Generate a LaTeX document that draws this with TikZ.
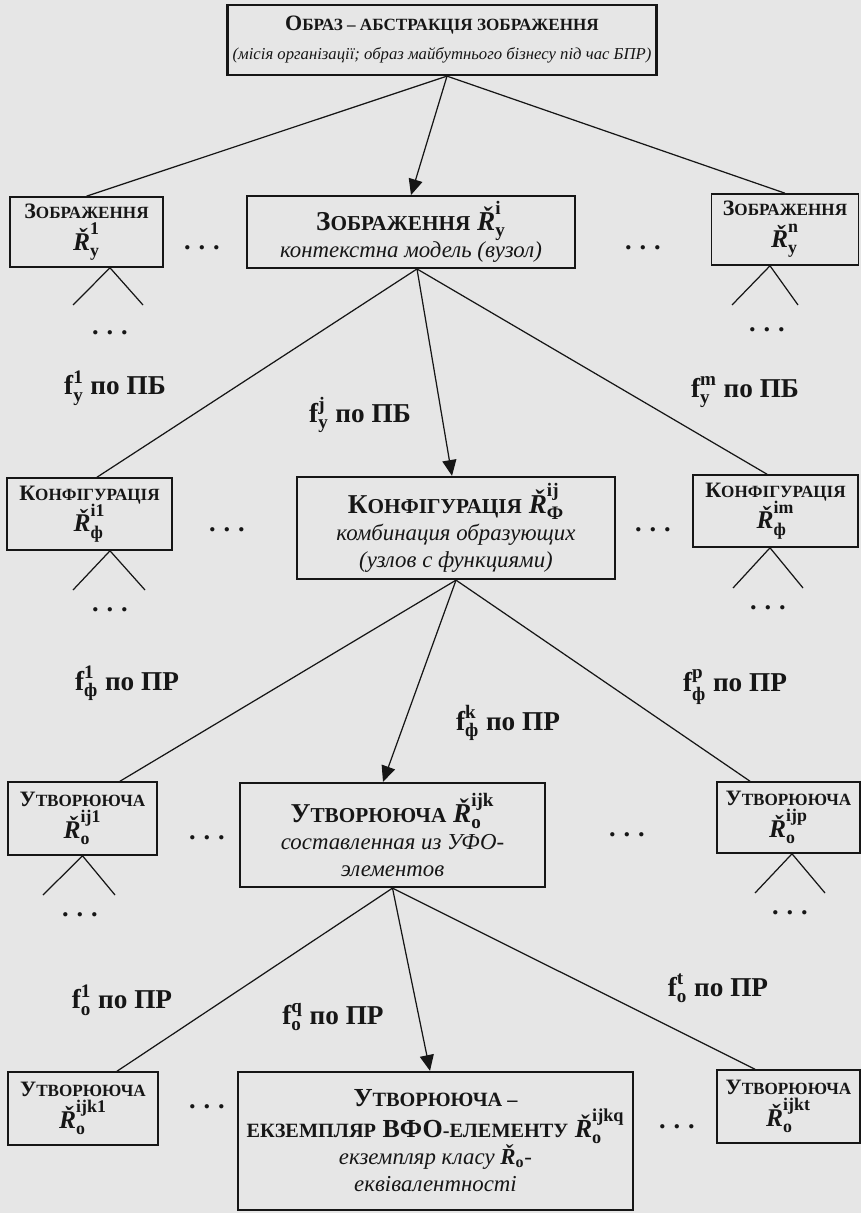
\documentclass[tikz,border=0pt]{standalone}
\usepackage{amsmath}
\usepackage{fontspec}
\setmainfont{Liberation Serif}
\usepackage{xcolor}
\usepackage{tikz}
\usetikzlibrary{positioning, calc, arrows.meta}
\definecolor{pgPaper}{RGB}{230, 230, 230}
\definecolor{pgInk}{RGB}{22, 22, 22}
\makeatletter
\newcommand{\lowcaps}[1]{{\@tempdima=\f@size pt \@tempdima=0.78\@tempdima \fontsize{\@tempdima}{\baselineskip}\selectfont #1}}
\makeatother
\newcommand{\Rv}[2]{$\text{\bfseries\itshape Ř}_{\text{\bfseries\upshape #1}}^{\text{\bfseries\upshape #2}}$}
\newcommand{\Rsub}[1]{$\text{\bfseries\itshape Ř}_{\text{\bfseries\upshape #1}}$}
\newcommand{\fpo}[3]{$\text{\bfseries f}_{\text{\bfseries #1}}^{\text{\bfseries #2}}$ по #3}
\newcommand{\gapdots}{.\hspace{0.3em}.\hspace{0.3em}.}
\tikzset{
    base/.style={
        align=center,
        text=pgInk
    },
    core/.style={
        base,
        rectangle,
        draw=pgInk,
        line width=1.3pt,
        inner sep=1mm,
        font=\fontsize{15.5}{15.5}\selectfont
    },
    leaf/.style={
        base,
        rectangle,
        draw=pgInk,
        line width=0.9pt,
        inner sep=1mm,
        font=\fontsize{12.5}{18}\selectfont
    },
    gap/.style={
        base,
        font=\bfseries\fontsize{15}{15}\selectfont,
        inner sep=0pt
    },
    link/.style={
        draw=pgInk,
        line width=0.7pt
    },
    flow/.style={
        link,
        -{Triangle[length=9pt, width=8pt]}
    },
    tag/.style={
        base,
        font=\bfseries\fontsize{15.5}{17}\selectfont,
        inner sep=1pt
    }
}

\begin{document}
\begin{tikzpicture}
  \fill[pgPaper] (0,0) rectangle (17.22,-24.26);
  \useasboundingbox (0,0) rectangle (17.22,-24.26);

  % Image level
  \node[core, minimum width=8.36cm, minimum height=1.40cm] (obraz) at (8.84,-0.80)
    {{\bfseries\fontsize{12.5}{13}\selectfont О\lowcaps{БРАЗ – АБСТРАКЦІЯ ЗОБРАЖЕННЯ}}\\[1pt]
     {\itshape\fontsize{9.5}{11}\selectfont (місія організації; образ майбутнього бізнесу під час БПР)}};

  \node[leaf, minimum width=3.06cm, minimum height=1.40cm] (zl) at (1.73,-4.64)
    {\bfseries З\lowcaps{ОБРАЖЕННЯ}\\ \fontsize{14.5}{18}\selectfont\Rv{y}{1}};
  \node[core, minimum width=6.56cm, minimum height=1.40cm] (zm) at (8.22,-4.64)
    {\bfseries З\lowcaps{ОБРАЖЕННЯ} \Rv{y}{i}\\ \fontsize{13}{15}\selectfont\mdseries\itshape контекстна модель (вузол)};
  \node[leaf, minimum width=2.94cm, minimum height=1.42cm] (zr) at (15.70,-4.59)
    {\bfseries З\lowcaps{ОБРАЖЕННЯ}\\ \fontsize{14.5}{18}\selectfont\Rv{y}{n}};
  \node[gap] (d1) at (4.04,-4.96) {\gapdots};
  \node[gap] (d2) at (12.86,-4.96) {\gapdots};

  \draw[link] ([xshift=1mm]obraz.south) -- (zl.north);
  \draw[flow] ([xshift=1mm]obraz.south) -- (zm.north);
  \draw[link] ([xshift=1mm]obraz.south) -- (zr.north);

  \coordinate (zl-a) at (1.46,-6.10);
  \coordinate (zl-b) at (2.86,-6.10);
  \draw[link] (zl-a) -- ([xshift=4.7mm]zl.south) -- (zl-b);
  \node[gap] (zl-d) at (2.20,-6.66) {\gapdots};
  \coordinate (zr-a) at (14.64,-6.10);
  \coordinate (zr-b) at (15.96,-6.10);
  \draw[link] (zr-a) -- ([xshift=-3mm]zr.south) -- (zr-b);
  \node[gap] (zr-d) at (15.34,-6.60) {\gapdots};

  \node[tag] (fy1) at (2.30,-7.76) {\fpo{y}{1}{ПБ}};
  \node[tag] (fyj) at (7.20,-8.30) {\fpo{y}{j}{ПБ}};
  \node[tag] (fym) at (14.90,-7.84) {\fpo{y}{m}{ПБ}};

  % Configuration level
  \node[leaf, minimum width=3.30cm, minimum height=1.44cm] (kl) at (1.79,-10.28)
    {\bfseries К\lowcaps{ОНФІГУРАЦІЯ}\\ \fontsize{14.5}{18}\selectfont\Rv{ф}{i1}};
  \node[core, minimum width=6.36cm, minimum height=2.04cm] (km) at (9.12,-10.56)
    {\bfseries К\lowcaps{ОНФІГУРАЦІЯ} \Rv{Ф}{ij}\\ \fontsize{13}{15}\selectfont\mdseries\itshape комбинация образующих\\ \fontsize{13}{15}\selectfont\mdseries\itshape (узлов с функциями)};
  \node[leaf, minimum width=3.30cm, minimum height=1.44cm] (kr) at (15.51,-10.22)
    {\bfseries К\lowcaps{ОНФІГУРАЦІЯ}\\ \fontsize{14.5}{18}\selectfont\Rv{ф}{im}};
  \node[gap] (d3) at (4.54,-10.60) {\gapdots};
  \node[gap] (d4) at (13.06,-10.60) {\gapdots};

  \draw[link] ([xshift=1.2mm]zm.south) -- ([xshift=1.5mm]kl.north);
  \draw[flow] ([xshift=1.2mm]zm.south) -- ([xshift=-0.8mm]km.north);
  \draw[link] ([xshift=1.2mm]zm.south) -- ([xshift=-1.7mm]kr.north);

  \coordinate (kl-a) at (1.46,-11.80);
  \coordinate (kl-b) at (2.90,-11.80);
  \draw[link] (kl-a) -- ([xshift=4.1mm]kl.south) -- (kl-b);
  \node[gap] (kl-d) at (2.20,-12.20) {\gapdots};
  \coordinate (kr-a) at (14.66,-11.76);
  \coordinate (kr-b) at (16.06,-11.76);
  \draw[link] (kr-a) -- ([xshift=-1.1mm]kr.south) -- (kr-b);
  \node[gap] (kr-d) at (15.36,-12.16) {\gapdots};

  \node[tag] (ff1) at (2.54,-13.66) {\fpo{ф}{1}{ПР}};
  \node[tag] (ffk) at (10.16,-14.46) {\fpo{ф}{k}{ПР}};
  \node[tag] (ffp) at (14.70,-13.74) {\fpo{ф}{p}{ПР}};

  % Generator level
  \node[leaf, minimum width=2.98cm, minimum height=1.46cm] (ul) at (1.65,-16.37)
    {\bfseries У\lowcaps{ТВОРЮЮЧА}\\ \fontsize{14.5}{18}\selectfont\Rv{o}{ij1}};
  \node[core, minimum width=6.10cm, minimum height=2.08cm] (um) at (7.85,-16.70)
    {\bfseries У\lowcaps{ТВОРЮЮЧА} \Rv{o}{ijk}\\ \fontsize{13}{15}\selectfont\mdseries\itshape составленная из УФО-\\ \fontsize{13}{15}\selectfont\mdseries\itshape элементов};
  \node[leaf, minimum width=2.86cm, minimum height=1.42cm] (ur) at (15.77,-16.35)
    {\bfseries У\lowcaps{ТВОРЮЮЧА}\\ \fontsize{14.5}{18}\selectfont\Rv{o}{ijp}};
  \node[gap] (d5) at (4.14,-16.76) {\gapdots};
  \node[gap] (d6) at (12.54,-16.70) {\gapdots};

  \draw[link] (km.south) -- ([xshift=7.5mm]ul.north);
  \draw[flow] (km.south) -- ([xshift=-1.9mm]um.north);
  \draw[link] (km.south) -- ([xshift=-7.7mm]ur.north);

  \coordinate (ul-a) at (0.86,-17.90);
  \coordinate (ul-b) at (2.30,-17.90);
  \draw[link] (ul-a) -- (ul.south) -- (ul-b);
  \node[gap] (ul-d) at (1.60,-18.30) {\gapdots};
  \coordinate (ur-a) at (15.10,-17.86);
  \coordinate (ur-b) at (16.50,-17.86);
  \draw[link] (ur-a) -- ([xshift=0.7mm]ur.south) -- (ur-b);
  \node[gap] (ur-d) at (15.80,-18.26) {\gapdots};

  \node[tag] (fo1) at (2.44,-20.00) {\fpo{o}{1}{ПР}};
  \node[tag] (foq) at (6.66,-20.34) {\fpo{o}{q}{ПР}};
  \node[tag] (fot) at (14.36,-19.76) {\fpo{o}{t}{ПР}};

  % Instance level
  \node[leaf, minimum width=3.00cm, minimum height=1.46cm] (bl) at (1.66,-22.17)
    {\bfseries У\lowcaps{ТВОРЮЮЧА}\\ \fontsize{14.5}{18}\selectfont\Rv{o}{ijk1}};
  \node[core, minimum width=7.90cm, minimum height=2.76cm, font=\fontsize{14.8}{15.5}\selectfont] (bm) at (8.71,-22.82)
    {\bfseries У\lowcaps{ТВОРЮЮЧА –}\\ \bfseries\lowcaps{ЕКЗЕМПЛЯР} ВФО\lowcaps{-ЕЛЕМЕНТУ} \Rv{o}{ijkq}\\ \fontsize{13}{15}\selectfont\mdseries\itshape екземпляр класу \Rsub{o}-\\ \fontsize{13}{15}\selectfont\mdseries\itshape еквівалентності};
  \node[leaf, minimum width=2.86cm, minimum height=1.46cm] (br) at (15.77,-22.13)
    {\bfseries У\lowcaps{ТВОРЮЮЧА}\\ \fontsize{14.5}{18}\selectfont\Rv{o}{ijkt}};
  \node[gap] (d7) at (4.14,-22.14) {\gapdots};
  \node[gap] (d8) at (13.54,-22.54) {\gapdots};

  \draw[link] (um.south) -- ([xshift=6.8mm]bl.north);
  \draw[flow] (um.south) -- ([xshift=-1.1mm]bm.north);
  \draw[link] (um.south) -- ([xshift=-6.7mm]br.north);
\end{tikzpicture}
\end{document}
